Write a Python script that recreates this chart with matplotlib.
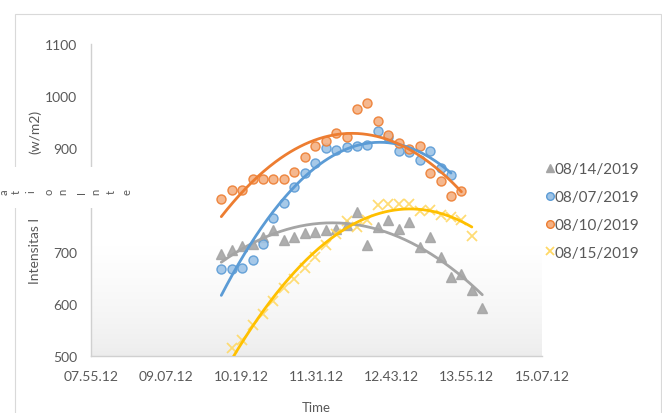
import numpy as np
import matplotlib.pyplot as plt
from matplotlib.patches import Rectangle
from matplotlib.lines import Line2D
from matplotlib.ticker import FixedLocator, FuncFormatter
from matplotlib.colors import LinearSegmentedColormap

plt.rcParams['font.family'] = ['Lato', 'DejaVu Sans']

# solar irradiance readings (w/m2), one every 10 minutes
time_0807 = ["10:00", "10:10", "10:20", "10:30", "10:40", "10:50", "11:00", "11:10",
             "11:20", "11:30", "11:40", "11:50", "12:00", "12:10", "12:20", "12:30",
             "12:40", "12:50", "13:00", "13:10", "13:20", "13:30", "13:40"]
irr_0807 = [667, 667, 670, 684, 715, 766, 795, 825, 852, 872, 900, 897, 902, 904,
            906, 933, 921, 895, 893, 877, 895, 862, 848]

time_0810 = ["10:00", "10:10", "10:20", "10:30", "10:40", "10:50", "11:00", "11:10",
             "11:20", "11:30", "11:40", "11:50", "12:00", "12:10", "12:20", "12:30",
             "12:40", "12:50", "13:00", "13:10", "13:20", "13:30", "13:40", "13:50"]
irr_0810 = [801, 820, 820, 841, 841, 841, 841, 854, 883, 904, 914, 929, 921, 975,
            987, 952, 925, 910, 898, 904, 851, 837, 808, 818]

time_0814 = ["10:00", "10:10", "10:20", "10:30", "10:40", "10:50", "11:00", "11:10",
             "11:20", "11:30", "11:40", "11:50", "12:00", "12:10", "12:20", "12:30",
             "12:40", "12:50", "13:00", "13:10", "13:20", "13:30", "13:40", "13:50",
             "14:00", "14:10"]
irr_0814 = [697, 703, 711, 716, 728, 743, 724, 728, 736, 739, 743, 745, 751, 776,
            713, 749, 761, 745, 757, 709, 728, 690, 651, 657, 626, 592]

time_0815 = ["10:10", "10:20", "10:30", "10:40", "10:50", "11:00", "11:10", "11:20",
             "11:30", "11:40", "11:50", "12:00", "12:10", "12:20", "12:30", "12:40",
             "12:50", "13:00", "13:10", "13:20", "13:30", "13:40", "13:50", "14:00"]
irr_0815 = [515, 531, 559, 580, 605, 630, 649, 670, 690, 713, 734, 759, 749, 762,
            791, 793, 793, 793, 778, 780, 772, 768, 762, 730]

tick_times = ["07:55:12", "09:07:12", "10:19:12", "11:31:12", "12:43:12", "13:55:12", "15:07:12"]


def to_min(s):
    parts = [int(p) for p in s.split(":")]
    while len(parts) < 3:
        parts.append(0)
    return parts[0] * 60 + parts[1] + parts[2] / 60.0


def fmt_time(m, pos=None):
    sec = int(round(m * 60))
    return "%02d.%02d.%02d" % (sec // 3600, (sec // 60) % 60, sec % 60)


ticks = [to_min(s) for s in tick_times]

fig = plt.figure(figsize=(6.62, 4.14), dpi=100)
ax = fig.add_axes([91 / 662, 1 - 357 / 414, 451 / 662, 312 / 414])

# plot area shading: white, fading to light grey near the bottom
shade = LinearSegmentedColormap.from_list("shade", ["#ececec", "#ffffff"])
h = np.linspace(0, 1, 300)
grad = np.clip(h / 0.35, 0, 1) ** 0.7
ax.imshow(grad.reshape(-1, 1), cmap=shade, vmin=0, vmax=1, aspect="auto",
          extent=[ticks[0], ticks[-1], 500, 1100], origin="lower", zorder=0)
ax.set_xlim(ticks[0], ticks[-1])
ax.set_ylim(500, 1100)

series = [
    ("08/14/2019", time_0814, irr_0814, dict(marker="^", ms=6.5, mfc="#a5a5a5", mec="#a5a5a5"), "#a5a5a5"),
    ("08/07/2019", time_0807, irr_0807, dict(marker="o", ms=6.5, mfc="#9dc3e6", mec="#5b9bd5"), "#5b9bd5"),
    ("08/10/2019", time_0810, irr_0810, dict(marker="o", ms=6.5, mfc="#f4b183", mec="#ed7d31"), "#ed7d31"),
    ("08/15/2019", time_0815, irr_0815, dict(marker="x", ms=7, mfc="#ffd966", mec="#ffd966", mew=1.3), "#ffc000"),
]

handles = []
for label, tt, vv, mk, lc in series:
    x = np.array([to_min(s) for s in tt])
    y = np.array(vv, dtype=float)
    ax.plot(x, y, ls="none", alpha=0.9, zorder=3, **mk)
    # 2nd order polynomial trendline
    c = np.polyfit(x, y, 2)
    xs = np.linspace(x[0], x[-1], 200)
    ax.plot(xs, np.polyval(c, xs), color=lc, lw=2, zorder=4, solid_capstyle="round")
    handles.append(Line2D([], [], ls="none", label=label, **dict(mk, ms=5.5)))

ax.xaxis.set_major_locator(FixedLocator(ticks))
ax.xaxis.set_major_formatter(FuncFormatter(fmt_time))
ax.set_yticks([500, 600, 700, 800, 900, 1000, 1100])
ax.tick_params(length=0, labelsize=10, colors="#595959")
ax.tick_params(axis="x", pad=10)
ax.tick_params(axis="y", pad=10)
for s in ["top", "right"]:
    ax.spines[s].set_visible(False)
for s in ["left", "bottom"]:
    ax.spines[s].set_color("#d0d0d0")
    ax.spines[s].set_linewidth(1)

# axis title, its middle part sits under the text box drawn below
fig.text(35 / 662, 1 - 284 / 414, "Intensitas I", rotation=90, ha="center", va="bottom",
         fontsize=10, color="#595959")
fig.text(35 / 662, 1 - 110 / 414, "(w/m2)", rotation=90, ha="center", va="top",
         fontsize=10, color="#595959")
fig.text(316 / 662, 1 - 408 / 414, "Time", ha="center", va="center", fontsize=9.5, color="#595959")

fig.legend(handles=handles, loc="center left", bbox_to_anchor=(540 / 662, 1 - 212 / 414),
           frameon=False, fontsize=11, labelspacing=0.9, handlelength=0.5,
           handletextpad=0.05, labelcolor="#595959", borderaxespad=0)

# chart frame
fig.patches.append(Rectangle((15 / 662, -0.05), 646 / 662, 1.05 - 15 / 414, transform=fig.transFigure,
                             fill=False, ec="#d9d9d9", lw=0.8, zorder=0))

# stray text box over the axis title
fig.patches.append(Rectangle((0, 1 - 209 / 414), 138 / 662, 41 / 414, transform=fig.transFigure,
                             fc="white", ec="none", zorder=10))
box_chars = ["a", "t", "i", "o", "n", "I", "n", "t", "e"]
box_x = [4, 16, 31, 49, 63, 81, 96, 111, 127]
for ch, px in zip(box_chars, box_x):
    fig.text(px / 662, 1 - 192 / 414, ch, rotation=90, ha="center", va="center",
             fontsize=8, color="#595959", zorder=11)

fig.savefig("out.png", dpi=100)
